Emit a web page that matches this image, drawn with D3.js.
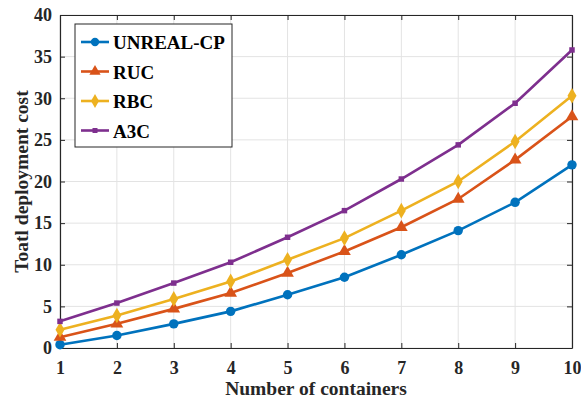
<!DOCTYPE html>
<html>
<head>
<meta charset="utf-8">
<script src="https://cdn.jsdelivr.net/npm/d3@7"></script>
<style>
  body { margin: 0; background: #fff; }
  text { font-family: "Liberation Serif", "Times New Roman", serif; font-weight: bold; }
</style>
</head>
<body>
<div id="canvas"></div>
<script>
const containers = [1, 2, 3, 4, 5, 6, 7, 8, 9, 10];
const unrealCP = [0.4, 1.5, 2.9, 4.4, 6.4, 8.5, 11.2, 14.1, 17.5, 22.0];
const ruc = [1.3, 2.9, 4.7, 6.6, 9.0, 11.6, 14.5, 17.9, 22.6, 27.8];
const rbc = [2.2, 3.9, 5.9, 8.0, 10.6, 13.2, 16.5, 20.0, 24.8, 30.3];
const a3c = [3.2, 5.4, 7.8, 10.3, 13.3, 16.5, 20.3, 24.4, 29.4, 35.8];
const yTicks = [0, 5, 10, 15, 20, 25, 30, 35, 40];

const series = [
  { name: "UNREAL-CP", values: unrealCP, color: "#0072BD", marker: "circle" },
  { name: "RUC", values: ruc, color: "#D95319", marker: "triangle" },
  { name: "RBC", values: rbc, color: "#EDB120", marker: "diamond" },
  { name: "A3C", values: a3c, color: "#7E2F8E", marker: "square" }
];

const width = 581, height = 400;
const margin = { left: 60, right: 9, top: 15, bottom: 52 };

const svg = d3.select("#canvas").append("svg")
    .attr("width", width)
    .attr("height", height);

const x = d3.scaleLinear().domain([1, 10]).range([margin.left, width - margin.right]);
const y = d3.scaleLinear().domain([0, 40]).range([height - margin.bottom, margin.top]);

// grid
svg.append("g").selectAll("line").data(containers).join("line")
    .attr("x1", d => x(d)).attr("x2", d => x(d))
    .attr("y1", y(0)).attr("y2", y(40))
    .attr("stroke", "#e3e3e3").attr("stroke-width", 1);
svg.append("g").selectAll("line").data(yTicks).join("line")
    .attr("x1", x(1)).attr("x2", x(10))
    .attr("y1", d => y(d)).attr("y2", d => y(d))
    .attr("stroke", "#e3e3e3").attr("stroke-width", 1);

// axes
svg.append("g")
    .attr("transform", `translate(0,${y(0)})`)
    .call(d3.axisBottom(x).tickValues(containers).tickSizeInner(-5).tickSizeOuter(0).tickPadding(13));
svg.append("g")
    .attr("transform", `translate(${x(1)},0)`)
    .call(d3.axisLeft(y).tickValues(yTicks).tickSizeInner(-5).tickSizeOuter(0).tickPadding(8));
svg.append("g")
    .attr("transform", `translate(0,${y(40)})`)
    .call(d3.axisTop(x).tickValues(containers).tickSizeInner(-5).tickSizeOuter(0).tickFormat(""));
svg.append("g")
    .attr("transform", `translate(${x(10)},0)`)
    .call(d3.axisRight(y).tickValues(yTicks).tickSizeInner(-5).tickSizeOuter(0).tickFormat(""));

svg.selectAll(".domain").attr("stroke", "#262626").attr("stroke-width", 1.2);
svg.selectAll(".tick line").attr("stroke", "#262626");
svg.selectAll(".tick text")
    .attr("font-size", 18)
    .attr("fill", "#262626")
    .style("font-family", "'Liberation Serif', serif")
    .style("font-weight", "bold");

// lines
const line = d3.line().x((d, i) => x(containers[i])).y(d => y(d));
const symbols = {
  circle: d3.symbol().type(d3.symbolCircle).size(70),
  triangle: d3.symbol().type(d3.symbolTriangle).size(70),
  diamond: d3.symbol().type(d3.symbolDiamond).size(70),
  square: d3.symbol().type(d3.symbolSquare).size(30)
};

series.forEach(s => {
  svg.append("path")
      .datum(s.values)
      .attr("fill", "none")
      .attr("stroke", s.color)
      .attr("stroke-width", 2.6)
      .attr("d", line);
  svg.append("g").selectAll("path").data(s.values).join("path")
      .attr("transform", (d, i) => `translate(${x(containers[i])},${y(d)})`)
      .attr("d", symbols[s.marker])
      .attr("fill", s.color);
});

// legend
const legend = svg.append("g").attr("transform", "translate(75,24)");
legend.append("rect")
    .attr("width", 157).attr("height", 123)
    .attr("fill", "#fff").attr("stroke", "#262626").attr("stroke-width", 1);
series.forEach((s, i) => {
  const ly = 18 + i * 29.5;
  legend.append("line")
      .attr("x1", 6).attr("x2", 34).attr("y1", ly).attr("y2", ly)
      .attr("stroke", s.color).attr("stroke-width", 2.6);
  legend.append("path")
      .attr("transform", `translate(20,${ly})`)
      .attr("d", s.marker === "square" ? d3.symbol().type(d3.symbolSquare).size(25)() : d3.symbol().type(symbols[s.marker].type()).size(55)())
      .attr("fill", s.color);
  legend.append("text")
      .attr("x", 38).attr("y", ly + 7)
      .attr("font-size", 19)
      .attr("fill", "#000")
      .text(s.name);
});

// axis titles
svg.append("text")
    .attr("x", (x(1) + x(10)) / 2).attr("y", 395)
    .attr("text-anchor", "middle")
    .attr("font-size", 19.5)
    .attr("fill", "#262626")
    .text("Number of containers");
svg.append("text")
    .attr("transform", `translate(28,${(y(0) + y(40)) / 2}) rotate(-90)`)
    .attr("text-anchor", "middle")
    .attr("font-size", 19.5)
    .attr("fill", "#262626")
    .text("Toatl deployment cost");
</script>
</body>
</html>
